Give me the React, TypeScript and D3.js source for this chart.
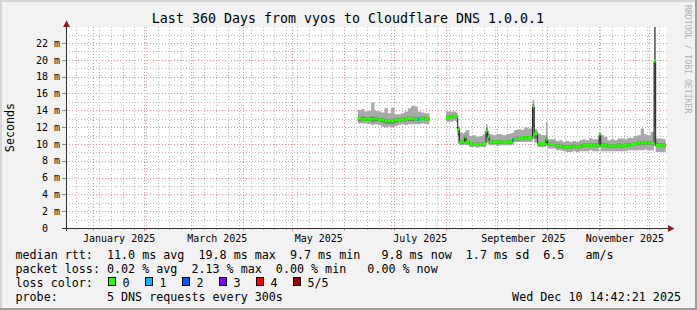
import React, { useEffect } from "react";
import * as d3 from "d3";

const W = 697;
const H = 310;
const FONT = "'DejaVu Sans Mono', monospace";

const title = "Last 360 Days from vyos to Cloudflare DNS 1.0.0.1";
const yAxisTitle = "Seconds";
const watermark = "RRDTOOL / TOBI OETIKER";

const yTickValues = [0, 2, 4, 6, 8, 10, 12, 14, 16, 18, 20, 22];
const yTickLabels = [" 0  ", " 2 m", " 4 m", " 6 m", " 8 m", "10 m", "12 m", "14 m", "16 m", "18 m", "20 m", "22 m"];
const yMinorValues = [1, 3, 5, 7, 9, 11, 13, 15, 17, 19, 21, 23];

const monthLabels = ["January 2025", "March 2025", "May 2025", "July 2025", "September 2025", "November 2025"];
const monthLabelCenters = ["2025-01-16T12:00:00Z", "2025-03-16T12:00:00Z", "2025-05-16T12:00:00Z", "2025-07-16T12:00:00Z", "2025-09-16T12:00:00Z", "2025-11-16T12:00:00Z"];

const legendRtt = "median rtt:  11.0 ms avg  19.8 ms max  9.7 ms min   9.8 ms now  1.7 ms sd  6.5   am/s";
const legendLoss = "packet loss: 0.02 % avg  2.13 % max  0.00 % min   0.00 % now";
const lossColorTitle = "loss color:";
const lossLevels = ["0", "1", "2", "3", "4", "5/5"];
const lossColors = ["#26ff00", "#00b8ff", "#0059ff", "#7e00ff", "#ff0000", "#a10000"];
const probeText = "probe:       5 DNS requests every 300s";
const dateText = "Wed Dec 10 14:42:21 2025";

// buckets: each bucket spans from its start to the next start; null median = gap
const bucketStart = [
  "2025-06-09", "2025-06-11", "2025-06-13", "2025-06-15", "2025-06-17", "2025-06-19", "2025-06-21", "2025-06-23",
  "2025-06-25", "2025-06-27", "2025-06-29", "2025-07-01", "2025-07-03", "2025-07-05", "2025-07-07", "2025-07-09",
  "2025-07-11", "2025-07-13", "2025-07-15", "2025-07-16", "2025-07-17", "2025-07-19", "2025-07-22",
  "2025-08-01", "2025-08-03", "2025-08-05", "2025-08-07", "2025-08-08", "2025-08-09", "2025-08-11", "2025-08-12",
  "2025-08-13", "2025-08-15", "2025-08-17", "2025-08-19", "2025-08-21", "2025-08-23", "2025-08-25", "2025-08-26",
  "2025-08-27", "2025-08-29", "2025-08-31", "2025-09-02", "2025-09-04", "2025-09-06", "2025-09-08", "2025-09-10",
  "2025-09-11", "2025-09-13", "2025-09-15", "2025-09-17", "2025-09-19", "2025-09-22", "2025-09-23", "2025-09-25",
  "2025-09-27", "2025-09-30", "2025-10-01", "2025-10-03", "2025-10-06", "2025-10-08", "2025-10-10", "2025-10-12",
  "2025-10-14", "2025-10-16", "2025-10-18", "2025-10-20", "2025-10-22", "2025-10-24", "2025-10-26", "2025-10-28",
  "2025-10-30", "2025-11-01", "2025-11-02", "2025-11-04", "2025-11-06", "2025-11-08", "2025-11-10", "2025-11-12",
  "2025-11-14", "2025-11-16", "2025-11-18", "2025-11-20", "2025-11-22", "2025-11-24", "2025-11-26", "2025-11-28",
  "2025-11-30", "2025-12-02", "2025-12-04", "2025-12-05", "2025-12-07", "2025-12-09", "2025-12-11",
];
const rttMedian = [
  13.1, 13.0, 13.0, 13.0, 13.0, 13.1, 12.9, 12.9,
  12.8, 12.8, 12.8, 12.9, 12.9, 13.0, 13.0, 13.1,
  13.1, 13.0, 13.0, 13.0, 13.1, 13.0, null,
  13.2, 13.3, 13.4, 13.3, 11.8, 10.3, 10.3, 10.9,
  10.3, 10.1, 10.0, 10.0, 10.0, 10.1, 11.6, 10.9,
  10.3, 10.3, 10.3, 10.3, 10.2, 10.3, 10.3, 10.6,
  10.7, 10.7, 10.8, 10.8, 10.8, 14.5, 11.3, 10.1,
  10.1, 10.6, 10.0, 10.0, 9.8, 9.8, 9.7, 9.7,
  9.7, 9.8, 9.7, 9.8, 9.9, 9.9, 9.9, 9.9,
  9.9, 11.2, 9.9, 9.9, 9.8, 9.8, 9.8, 9.9,
  9.8, 9.9, 9.9, 10.0, 10.1, 10.2, 10.2, 10.2,
  10.2, 10.2, 19.9, 9.9, 9.9, 9.9, null,
];
const rttLoss = [
  0, 0, 0, 0, 0, 0, 0, 0,
  0, 0, 0, 0, 0, 0, 0, 0,
  0, 0, 1, 0, 0, 0, 0,
  0, 0, 0, 0, 0, 0, 0, 0,
  0, 0, 0, 0, 0, 0, 0, 0,
  0, 0, 0, 0, 0, 0, 0, 1,
  0, 0, 0, 0, 0, 0, 0, 0,
  0, 0, 0, 0, 0, 0, 0, 0,
  0, 0, 0, 0, 0, 0, 0, 0,
  0, 0, 0, 0, 0, 0, 0, 0,
  0, 0, 0, 0, 0, 0, 0, 0,
  0, 0, 0, 0, 0, 0, 0,
];
const smokeMin = [
  12.5, 12.5, 12.5, 12.4, 12.3, 12.4, 12.3, 12.1,
  12.0, 12.1, 12.0, 12.2, 12.3, 12.4, 12.3, 12.4,
  12.4, 12.4, 12.4, 12.4, 12.5, 12.4, null,
  12.7, 12.7, 12.8, 12.6, 10.1, 9.9, 9.9, 10.0,
  9.9, 9.7, 9.7, 9.6, 9.7, 9.7, 10.2, 10.0,
  9.9, 9.9, 9.8, 9.9, 9.9, 9.9, 9.9, 10.1,
  10.3, 10.3, 10.3, 10.3, 10.3, 10.6, 10.2, 9.7,
  9.7, 9.8, 9.5, 9.5, 9.3, 9.3, 9.2, 9.1,
  9.1, 9.2, 9.1, 9.2, 9.2, 9.2, 9.3, 9.2,
  9.2, 9.6, 9.2, 9.2, 9.2, 9.2, 9.2, 9.2,
  9.2, 9.2, 9.3, 9.3, 9.3, 9.3, 9.3, 9.4,
  9.3, 9.3, 9.8, 9.1, 9.1, 9.1, null,
];
const smokeLow = [
  12.8, 12.8, 12.8, 12.8, 12.7, 12.8, 12.7, 12.6,
  12.5, 12.5, 12.5, 12.6, 12.7, 12.8, 12.8, 12.8,
  12.8, 12.8, 12.8, 12.8, 12.9, 12.8, null,
  13.0, 13.1, 13.2, 13.1, 11.0, 10.1, 10.1, 10.4,
  10.1, 9.9, 9.8, 9.8, 9.8, 9.9, 10.8, 10.5,
  10.1, 10.1, 10.1, 10.1, 10.1, 10.1, 10.1, 10.4,
  10.5, 10.5, 10.6, 10.6, 10.6, 12.0, 10.7, 9.9,
  9.9, 10.2, 9.8, 9.8, 9.6, 9.6, 9.5, 9.5,
  9.5, 9.6, 9.5, 9.6, 9.7, 9.7, 9.7, 9.7,
  9.7, 10.3, 9.7, 9.7, 9.6, 9.6, 9.6, 9.7,
  9.6, 9.7, 9.7, 9.8, 9.9, 10.0, 10.0, 10.0,
  10.0, 10.0, 12.0, 9.7, 9.7, 9.7, null,
];
const smokeHigh = [
  13.3, 13.3, 13.2, 13.2, 13.3, 13.3, 13.1, 13.1,
  13.0, 13.0, 13.0, 13.1, 13.1, 13.2, 13.2, 13.3,
  13.3, 13.2, 13.2, 13.2, 13.3, 13.2, null,
  13.4, 13.5, 13.6, 13.5, 12.0, 10.5, 10.5, 11.1,
  10.5, 10.3, 10.2, 10.2, 10.2, 10.3, 12.0, 11.2,
  10.5, 10.5, 10.5, 10.5, 10.4, 10.5, 10.5, 10.8,
  10.9, 10.9, 11.0, 11.0, 11.0, 14.8, 11.5, 10.3,
  10.3, 10.9, 10.2, 10.2, 10.0, 10.0, 9.9, 9.9,
  9.9, 10.0, 9.9, 10.0, 10.1, 10.1, 10.1, 10.1,
  10.1, 11.3, 10.1, 10.1, 10.0, 10.0, 10.0, 10.1,
  10.0, 10.1, 10.1, 10.2, 10.3, 10.4, 10.4, 10.4,
  10.4, 10.4, 26.0, 10.1, 10.1, 10.1, null,
];
const smokeMax = [
  14.1, 14.2, 13.9, 14.0, 15.0, 14.0, 13.9, 13.8,
  14.3, 13.7, 14.4, 13.6, 13.6, 13.7, 13.9, 14.3,
  14.6, 14.5, 13.9, 13.9, 13.8, 13.7, null,
  13.9, 13.9, 13.9, 13.8, 12.2, 11.4, 11.3, 11.5,
  11.7, 11.0, 11.1, 10.9, 11.0, 11.2, 12.4, 11.6,
  11.2, 11.1, 11.2, 11.2, 11.1, 11.2, 11.3, 11.4,
  11.7, 11.8, 11.7, 12.0, 11.9, 15.3, 11.8, 11.3,
  11.1, 12.7, 10.6, 10.6, 10.4, 10.5, 10.3, 10.4,
  10.3, 10.4, 10.3, 10.5, 10.6, 10.5, 10.7, 10.6,
  10.6, 11.4, 11.1, 10.9, 10.5, 10.6, 10.5, 10.7,
  10.7, 10.6, 10.8, 10.8, 11.0, 11.1, 11.9, 11.2,
  11.1, 11.5, 30.0, 10.7, 10.7, 10.6, null,
];

const xScale = d3
  .scaleUtc()
  .domain([new Date(Date.UTC(2024, 11, 15, 14, 10)), new Date(Date.UTC(2025, 11, 11, 4, 34))])
  .range([66, 666]);
const yScale = d3.scaleLinear().domain([0, 24]).range([228.5, 26.7]);

const PLOT_L = 66;
const PLOT_R = 667;
const PLOT_T = 27;
const PLOT_B = 228;

type P = { gap: boolean; x: number; med: number; lo: number; dlo: number; dhi: number; hi: number };

function buildPoints(): { pts: P[]; bars: { x0: number; x1: number; med: number; loss: number }[] } {
  const pts: P[] = [];
  const bars: { x0: number; x1: number; med: number; loss: number }[] = [];
  for (let i = 0; i < bucketStart.length - 1; i++) {
    const m = rttMedian[i];
    if (m == null) {
      pts.push({ gap: true, x: 0, med: 0, lo: 0, dlo: 0, dhi: 0, hi: 0 });
      continue;
    }
    const x0 = xScale(new Date(bucketStart[i] + "T00:00:00Z"));
    const x1 = xScale(new Date(bucketStart[i + 1] + "T00:00:00Z"));
    const v = { gap: false, med: m, lo: smokeMin[i] as number, dlo: smokeLow[i] as number, dhi: smokeHigh[i] as number, hi: smokeMax[i] as number };
    pts.push({ ...v, x: x0 });
    pts.push({ ...v, x: x1 });
    bars.push({ x0, x1, med: m, loss: rttLoss[i] });
  }
  return { pts, bars };
}

const snap = (v: number) => Math.round(v) + 0.5;

export default function App() {
  useEffect(() => {
    document.body.style.margin = "0";
  }, []);

  const { pts, bars } = buildPoints();
  const outer = d3.area<P>().defined((p) => !p.gap).x((p) => p.x).y0((p) => yScale(p.lo)).y1((p) => yScale(p.hi));
  const inner = d3.area<P>().defined((p) => !p.gap).x((p) => p.x).y0((p) => yScale(p.dlo)).y1((p) => yScale(p.dhi));
  const medLine = d3.line<P>().defined((p) => !p.gap).x((p) => p.x).y((p) => yScale(p.med));

  const start = xScale.domain()[0];
  const end = xScale.domain()[1];
  const months = d3.utcMonth.range(start, end);
  const weeks = d3.utcSunday.range(start, end);

  const minorColor = "#bcbcbc";
  const majorColor = "#ee9090";
  const dash = "1,2";

  return (
    <svg width={W} height={H} style={{ position: "absolute", left: 0, top: 0, display: "block" }} fontFamily={FONT}>
      <defs>
        <clipPath id="plotClip">
          <rect x={PLOT_L} y={PLOT_T} width={PLOT_R - PLOT_L} height={PLOT_B - PLOT_T + 1} />
        </clipPath>
      </defs>
      {/* background + 3D frame */}
      <rect x={0} y={0} width={W} height={H} fill="#f2f2f2" />
      <rect x={0} y={0} width={W} height={2} fill="#d6d6d6" />
      <rect x={0} y={0} width={2} height={H} fill="#d6d6d6" />
      <rect x={0} y={H - 2} width={W} height={2} fill="#9e9e9e" />
      <rect x={W - 2} y={0} width={2} height={H} fill="#9e9e9e" />

      {/* canvas */}
      <rect x={PLOT_L} y={PLOT_T} width={PLOT_R - PLOT_L} height={PLOT_B - PLOT_T} fill="#ffffff" />

      {/* grid */}
      <g strokeWidth={1} fill="none">
        {yMinorValues.map((v) => (
          <line key={"hm" + v} x1={PLOT_L} x2={PLOT_R} y1={snap(yScale(v) - 0.5)} y2={snap(yScale(v) - 0.5)} stroke={minorColor} strokeDasharray={dash} />
        ))}
        {weeks.map((d, i) => (
          <line key={"vm" + i} x1={snap(xScale(d) - 0.5)} x2={snap(xScale(d) - 0.5)} y1={PLOT_T} y2={PLOT_B} stroke={minorColor} strokeDasharray={dash} />
        ))}
        {weeks.map((d, i) => (
          <line key={"vmt" + i} x1={snap(xScale(d) - 0.5)} x2={snap(xScale(d) - 0.5)} y1={PLOT_B} y2={PLOT_B + 2} stroke={minorColor} />
        ))}
        {yTickValues.filter((v) => v > 0).map((v) => (
          <line key={"hM" + v} x1={PLOT_L} x2={PLOT_R} y1={snap(yScale(v) - 0.5)} y2={snap(yScale(v) - 0.5)} stroke={majorColor} strokeDasharray={dash} />
        ))}
        {yTickValues.map((v) => (
          <line key={"hMt" + v} x1={62} x2={PLOT_L} y1={snap(yScale(v) - 0.5)} y2={snap(yScale(v) - 0.5)} stroke="#909090" />
        ))}
        {months.map((d, i) => (
          <line key={"vM" + i} x1={snap(xScale(d) - 0.5)} x2={snap(xScale(d) - 0.5)} y1={PLOT_T} y2={PLOT_B} stroke={majorColor} strokeDasharray={dash} />
        ))}
        {months.map((d, i) => (
          <line key={"vMt" + i} x1={snap(xScale(d) - 0.5)} x2={snap(xScale(d) - 0.5)} y1={PLOT_B} y2={PLOT_B + 3} stroke={majorColor} />
        ))}
      </g>

      {/* smoke + median */}
      <g clipPath="url(#plotClip)">
        <path d={outer(pts) || ""} fill="#a8a8a8" />
        <path d={inner(pts) || ""} fill="#6a6a6a" />
        <path d={medLine(pts) || ""} fill="none" stroke="#202020" strokeWidth={1} />
        {bars.map((b, i) => (
          <rect key={"b" + i} x={b.x0} width={b.x1 - b.x0} y={yScale(b.med) - 1.5} height={3} fill={lossColors[b.loss]} />
        ))}
      </g>

      {/* axes */}
      <line x1={62} x2={669} y1={228.5} y2={228.5} stroke="#303030" strokeWidth={1} />
      <line x1={66.5} x2={66.5} y1={231} y2={25} stroke="#303030" strokeWidth={1} />
      <polygon points="63,27 70,27 66.5,20.5" fill="#8e1c1c" />
      <polygon points="668,225 668,232 674.5,228.5" fill="#8e1c1c" />

      {/* y labels */}
      <g fontSize={10} fill="#000">
        {yTickValues.map((v, i) => (
          <text key={"yl" + v} x={36} y={yScale(v) + 3.2} xmlSpace="preserve" style={{ whiteSpace: "pre" }}>
            {yTickLabels[i]}
          </text>
        ))}
      </g>
      {/* x labels */}
      <g fontSize={10} fill="#000" textAnchor="middle">
        {monthLabels.map((m, i) => (
          <text key={"xl" + i} x={xScale(new Date(monthLabelCenters[i]))} y={241.5}>
            {m}
          </text>
        ))}
      </g>

      {/* title */}
      <text x={348} y={23} fontSize={13.3} textAnchor="middle" fill="#000">
        {title}
      </text>
      <text transform="translate(13.5,127.5) rotate(-90)" fontSize={11.7} textAnchor="middle" fill="#000">
        {yAxisTitle}
      </text>
      <text transform="translate(685,5) rotate(90)" fontSize={8.2} fill="#b0b0b0">
        {watermark}
      </text>

      {/* legend */}
      <g fontSize={11.7} fill="#000">
        <text x={15.5} y={258.5} xmlSpace="preserve" style={{ whiteSpace: "pre" }}>{legendRtt}</text>
        <text x={15.5} y={272.5} xmlSpace="preserve" style={{ whiteSpace: "pre" }}>{legendLoss}</text>
        <text x={15.5} y={286.5}>{lossColorTitle}</text>
        {lossLevels.map((l, i) => (
          <g key={"lg" + i}>
            <rect x={108.5 + i * 37} y={277.5} width={7} height={8} fill={lossColors[i]} stroke="#000" strokeWidth={1} />
            <text x={122.5 + i * 37} y={286.5}>{l}</text>
          </g>
        ))}
        <text x={15.5} y={300.5} xmlSpace="preserve" style={{ whiteSpace: "pre" }}>{probeText}</text>
        <text x={681} y={300.5} textAnchor="end">{dateText}</text>
      </g>
    </svg>
  );
}
